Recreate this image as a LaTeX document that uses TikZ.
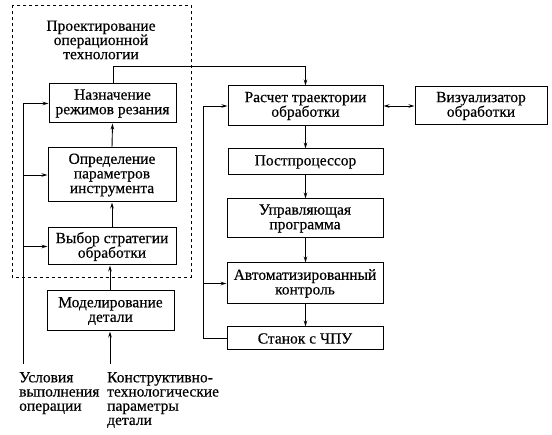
\documentclass[tikz,border=0pt]{standalone}
\usepackage{fontspec}
\setmainfont{Liberation Serif}[FakeBold=0.4]
\usetikzlibrary{arrows.meta}
\begin{document}
\begin{tikzpicture}[x=1pt,y=-1pt,
  box/.style={draw, line width=1pt, inner sep=0pt, align=center, font=\fontsize{15.5}{14.6}\selectfont},
  lbl/.style={inner sep=0pt, align=left, font=\fontsize{15.5}{14.2}\selectfont},
  conn/.style={line width=0.9pt},
  arr/.style={conn, -{Stealth[length=6pt,width=3.5pt]}},
  darr/.style={conn, {Stealth[length=6pt,width=3.5pt]}-{Stealth[length=6pt,width=3.5pt]}}]
\useasboundingbox (0,0) rectangle (552,435);
% dashed frame
\draw[dashed, line width=0.7pt] (12,5) rectangle (191,277);
\node[lbl, align=center] (title) at (101,40) {Проектирование\\операционной\\технологии};
% left column
\node[box, minimum width=127pt, minimum height=39pt] (naz) at (112.5,103.5) {Назначение\\режимов резания};
\node[box, minimum width=128pt, minimum height=54pt] (opr) at (112,175) {Определение\\параметров\\инструмента};
\node[box, minimum width=128pt, minimum height=37pt] (vyb) at (112,246.5) {Выбор стратегии\\обработки};
\node[box, minimum width=127pt, minimum height=40pt] (mod) at (110.5,311) {Моделирование\\детали};
% right column
\node[box, minimum width=155pt, minimum height=40pt] (ras) at (305.5,106) {Расчет траектории\\обработки};
\node[box, minimum width=132pt, minimum height=38pt] (viz) at (481,106) {Визуализатор\\обработки};
\node[box, minimum width=155pt, minimum height=26pt] (post) at (305.5,162) {Постпроцессор};
\node[box, minimum width=156pt, minimum height=39pt] (upr) at (305,218.5) {Управляющая\\программа};
\node[box, minimum width=156pt, minimum height=41pt] (avt) at (305,283.5) {Автоматизированный\\контроль};
\node[box, minimum width=156pt, minimum height=23pt] (stan) at (305,338.5) {Станок с ЧПУ};
% bottom labels
\node[lbl, anchor=north west] (usl) at (19,372) {Условия\\выполнения\\операции};
\node[lbl, anchor=north west] (kon) at (107,372) {Конструктивно-\\технологические\\параметры\\детали};
% coordinates
\coordinate (lb) at (23,364);
\coordinate (kb) at (110,364);
\coordinate (fb) at (203,0);
\coordinate (tl) at (113,66);
% left feeding line
\draw[conn] (lb) -- (lb |- naz.west);
\draw[arr] (lb |- naz.west) -- (naz.west);
\draw[arr] (lb |- opr.west) -- (opr.west);
\draw[arr] (lb |- vyb.west) -- (vyb.west);
% vertical chain left
\draw[arr] (kb) -- (mod.south -| kb);
\draw[arr] (mod.north -| kb) -- (vyb.south -| kb);
\draw[arr] (vyb.north) -- (opr.south);
\draw[arr] (opr.north) -- (naz.south);
% top link
\draw[arr] (naz.north -| tl) -- (tl) -| (ras.north);
% visualiser
\draw[darr] (ras.east) -- (viz.west);
% right chain
\draw[arr] (ras.south) -- (post.north);
\draw[arr] (post.south) -- (upr.north -| post.south);
\draw[arr] (upr.south -| post.south) -- (avt.north -| post.south);
\draw[arr] (avt.south -| post.south) -- (stan.north -| post.south);
% feedback
\draw[conn] (stan.west) -- (fb |- stan.west) -- (fb |- ras.west);
\draw[arr] (fb |- ras.west) -- (ras.west);
\draw[arr] (fb |- avt.west) -- (avt.west);
\end{tikzpicture}
\end{document}
